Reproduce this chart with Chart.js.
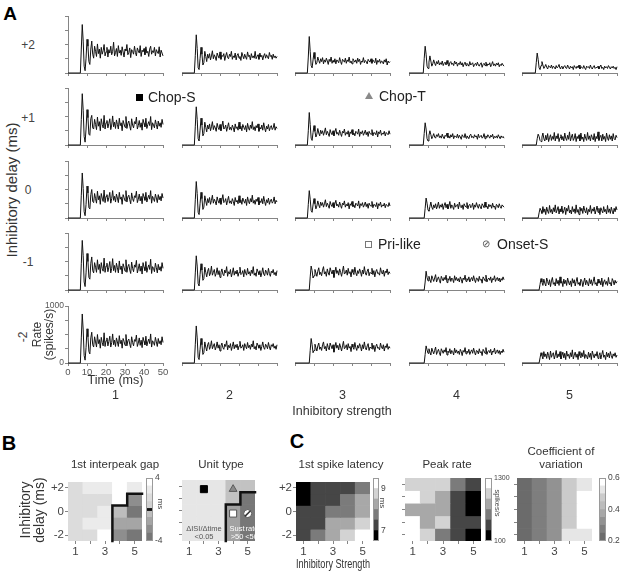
<!DOCTYPE html>
<html>
<head>
<meta charset="utf-8">
<script src="https://cdn.jsdelivr.net/npm/chart.js@4.4.0/dist/chart.umd.min.js"></script>
<style>
  body { margin: 0; background: #fff; }
  #fig { position: relative; width: 623px; height: 571px; overflow: hidden;
         font-family: "Liberation Sans", Arial, sans-serif; color: #333; }
  #fig canvas { position: absolute; }
  .lbl { position: absolute; white-space: pre; line-height: 1; text-align: center;
         transform: translate(-50%, -50%); }
  .mk { position: absolute; box-sizing: border-box; }
</style>
</head>
<body>
<div id="fig"></div>
<script>
// ---------- panel A : PSTHs, spikes/s in 0.5 ms bins starting at response onset ----------
const BIN_MS = 0.5;
const TIME_TICKS = [0, 10, 20, 30, 40, 50];
const RATE_TICKS = [0, 250, 500, 750, 1000];
const DELAYS = [2, 1, 0, -1, -2];
const STRENGTHS = [1, 2, 3, 4, 5];

// onset (ms) per inhibitory strength, one array per delay row
const ONSET_D2 = [6.5, 6.5, 6.5, 7.5, 7];
const ONSET_D1 = [6.5, 6.5, 6.5, 7.5, 7.5];
const ONSET_D0 = [6.5, 6.5, 6.5, 8, 8.5];
const ONSET_DM1 = [6.5, 6.5, 7.5, 8, 9];
const ONSET_DM2 = [6.5, 6.5, 7.5, 8, 9];

const RATE_D2_S1 = [0,420,850,560,120,40,260,590,470,200,150,420,560,330,260,470,380,290,510,340,
  420,260,450,330,390,500,300,370,450,280,410,350,470,320,380,540,300,360,430,290,
  480,350,400,310,460,370,280,420,390,500,320,360,440,270,410,380,330,470,360,300,
  440,390,350,480,290,400,370,430,320,460,350,380,290,420,470,330,390,360,450,300,
  410,370,340,460,280,400,350,300];
const RATE_D2_S2 = [0,310,670,430,90,60,250,450,330,140,180,380,290,200,330,260,340,230,300,390,
  250,320,280,220,350,300,260,370,240,310,290,340,220,300,360,270,250,330,290,380,
  240,300,270,350,230,310,340,260,290,220,360,300,250,330,280,240,370,290,310,230,
  340,270,300,260,380,250,290,320,240,350,280,310,230,300,340,260,320,280,250,360,
  290,310,240,330,270,300,260,290];
const RATE_D2_S3 = [0,280,640,380,130,90,230,360,250,150,180,280,220,170,250,200,270,160,230,190,
  260,210,150,240,200,280,170,220,190,250,160,230,210,180,270,200,150,240,220,190,
  260,170,230,200,280,180,210,160,250,220,190,230,170,260,200,240,150,210,190,270,
  180,220,200,160,240,210,190,250,170,230,200,180,260,150,220,190,240,170,210,200,
  160,230,190,250,140,210,180,200];
const RATE_D2_S4 = [0,250,470,330,120,80,190,300,210,120,160,230,170,130,200,160,220,140,180,150,
  210,130,170,190,140,220,160,120,180,200,150,170,130,210,160,190,120,170,150,200,
  140,180,110,160,190,130,170,150,120,200,140,160,180,110,150,170,130,190,140,120,
  160,180,100,150,170,130,190,120,160,140,180,110,150,200,130,160,120,170,140,180,
  110,150,130,170,140,120];
const RATE_D2_S5 = [0,180,350,240,90,60,130,200,140,80,110,150,100,70,130,110,90,140,80,120,
  100,70,130,90,110,150,80,100,120,70,110,130,90,80,140,100,70,120,90,110,
  60,130,100,80,120,90,140,70,110,100,80,130,90,60,120,100,110,80,140,90,
  70,110,130,80,100,90,120,70,110,140,80,100,60,120,90,110,80,130,100,70,
  110,90,120,80,100,60,110];

const RATE_D1_S1 = [0,450,900,610,150,50,280,620,480,190,170,460,520,300,280,450,360,270,490,330,
  410,250,460,360,300,520,280,390,430,300,380,460,270,350,510,320,400,290,440,360,
  280,470,340,390,250,430,370,310,500,290,380,420,330,260,460,350,300,410,370,490,
  280,340,430,310,390,260,450,380,320,470,290,360,410,340,500,270,390,350,300,440,
  360,280,420,330,390,310,450,360];
const RATE_D1_S2 = [0,330,670,450,110,70,260,470,350,160,200,400,310,230,350,280,370,250,320,410,
  270,340,300,240,380,310,270,360,250,330,420,280,300,350,240,320,390,270,310,260,
  350,300,230,370,290,320,260,400,280,330,250,360,310,270,340,230,380,300,260,350,
  290,410,270,320,250,340,300,370,240,310,280,350,260,390,300,230,330,280,360,250,
  310,340,270,300,380,260,320,290];
const RATE_D1_S3 = [0,250,570,360,120,80,220,340,240,140,190,290,210,160,260,200,250,170,230,300,
  180,240,200,150,270,210,180,250,160,230,290,190,220,170,260,200,150,240,210,280,
  170,220,190,250,140,230,200,270,180,210,160,240,220,190,280,150,230,200,250,170,
  210,260,180,230,150,240,200,190,270,160,220,210,180,250,140,230,200,260,170,210,
  190,240,160,220,200,180,250,190];
const RATE_D1_S4 = [0,200,390,280,110,70,170,250,180,110,150,200,140,120,180,150,200,130,160,120,
  190,140,110,170,150,210,130,160,120,180,140,200,110,160,150,130,190,120,170,140,
  100,180,150,130,200,120,160,140,110,170,190,130,150,120,180,140,160,100,190,130,
  150,170,120,140,200,110,160,130,180,150,120,170,140,190,110,150,130,160,120,180,
  140,110,160,130,150,120];
const RATE_D1_S5 = [0,110,190,150,80,60,140,210,110,70,170,90,200,60,130,180,80,150,100,220,
  70,160,110,200,60,130,180,90,150,70,210,120,80,170,100,230,70,140,190,80,
  120,200,60,150,110,180,70,210,100,140,60,190,120,80,220,100,160,70,180,130,
  90,200,60,150,110,230,80,140,170,70,190,100,150,60,210,120,80,180,100,160,
  70,200,110,90,170,130];

const RATE_D0_S1 = [0,400,790,520,110,40,240,560,440,180,160,410,500,290,270,430,340,260,470,320,
  390,240,430,350,290,490,270,380,410,290,360,450,260,340,480,310,380,280,420,350,
  270,450,330,370,240,410,360,300,480,280,370,400,320,250,440,340,290,390,360,470,
  270,330,420,300,380,250,430,370,310,450,280,350,400,330,480,260,380,340,290,420,
  350,270,410,320,380,300,430,350];
const RATE_D0_S2 = [0,320,640,430,100,60,250,450,340,150,190,390,300,220,340,270,360,240,310,400,
  260,330,290,230,370,300,260,350,240,320,410,270,290,340,230,310,380,260,300,250,
  340,290,220,360,280,310,250,390,270,320,240,350,300,260,330,220,370,290,250,340,
  280,400,260,310,240,330,290,360,230,300,270,340,250,380,290,220,320,270,350,240,
  300,330,260,290,370,250,310,280];
const RATE_D0_S3 = [0,240,480,330,130,100,230,340,250,160,210,300,230,180,280,220,270,190,250,320,
  200,260,220,170,290,230,200,270,180,250,310,210,240,190,280,220,170,260,230,300,
  190,240,210,270,160,250,220,290,200,230,180,260,240,210,300,170,250,220,270,190,
  230,280,200,250,170,260,220,210,290,180,240,230,200,270,160,250,220,280,190,230,
  210,260,180,240,220,200,270,210];
const RATE_D0_S4 = [0,170,350,260,140,120,200,280,190,150,230,180,250,160,210,280,170,230,190,250,
  150,220,270,180,240,160,210,290,170,230,200,150,260,190,220,240,160,280,200,180,
  230,150,250,210,190,270,160,220,240,180,200,260,150,230,190,270,210,170,240,200,
  160,250,220,180,280,190,210,160,240,200,230,170,260,190,210,150,240,220,180,250,
  200,170,230,210,190];
const RATE_D0_S5 = [0,90,170,130,80,200,100,160,60,190,120,80,220,100,150,70,180,110,230,90,
  140,200,70,160,110,210,80,130,190,60,170,120,220,90,140,70,200,110,160,80,
  230,100,150,60,190,120,170,80,210,130,90,180,60,150,110,220,80,160,120,190,
  70,140,210,100,170,60,180,130,90,200,110,150,70,220,100,160,80,190,120,70,
  170,110,200,140];

const RATE_DM1_S1 = [0,460,870,600,140,60,300,640,500,220,190,470,580,340,300,480,400,310,530,360,
  450,290,480,380,330,560,310,420,470,320,400,500,300,380,550,340,430,310,470,390,
  300,510,360,420,280,460,400,330,530,310,410,450,350,290,490,380,320,440,400,520,
  300,370,460,330,420,280,480,400,340,500,310,390,440,360,540,290,410,380,320,470,
  390,300,450,350,410,330,480,380];
const RATE_DM1_S2 = [0,300,600,420,110,70,270,460,350,170,200,400,310,230,330,380,250,300,420,260,
  310,360,240,290,390,270,340,220,310,370,280,250,350,300,410,240,320,280,360,230,
  300,390,260,330,280,350,240,310,400,270,290,340,230,360,300,260,380,280,320,250,
  350,290,410,260,300,240,370,320,270,340,230,300,390,280,250,350,310,260,380,290,
  240,330,300,360,270,310,250,340];
const RATE_DM1_S3 = [0,230,420,340,210,250,360,300,240,330,390,270,310,250,350,410,280,320,240,370,
  300,260,390,330,280,350,220,310,400,290,340,260,370,310,240,330,420,280,300,350,
  260,380,290,320,230,360,310,270,400,300,250,340,290,370,320,240,350,280,410,300,
  260,330,370,250,310,290,380,270,340,230,320,360,290,300,260,390,310,280,350,240,
  330,300,370,270,320,290];
const RATE_DM1_S4 = [0,140,330,220,160,240,180,130,250,200,150,210,270,140,190,230,170,120,240,200,
  160,220,180,260,130,200,170,240,150,210,190,130,250,170,220,160,200,140,230,190,
  120,210,180,260,150,200,170,230,140,190,220,160,250,180,130,210,200,150,240,170,
  190,120,230,200,160,260,140,190,210,170,230,130,200,180,250,150,190,220,160,210,
  140,200,170,230,180];
const RATE_DM1_S5 = [0,100,200,140,80,190,120,70,210,150,90,180,60,160,220,100,130,70,200,110,
  170,80,230,120,150,60,190,110,170,80,210,140,90,160,60,200,120,180,70,150,
  220,100,130,80,190,160,60,140,210,90,170,120,70,200,110,180,80,150,230,100,
  130,70,190,120,160,90,210,60,140,180,100,150,80,220,110,130,70,200,160,90,
  170,120,150];

const RATE_DM2_S1 = [0,440,860,580,130,50,270,600,460,200,160,440,540,320,280,460,370,280,500,340,
  410,260,450,360,300,530,290,390,440,300,380,470,280,360,510,320,400,290,440,370,
  290,480,340,400,260,430,380,310,500,300,390,420,330,270,460,360,300,410,380,490,
  290,350,440,310,400,270,450,380,320,470,300,370,420,340,510,280,390,360,310,450,
  370,290,430,340,390,320,460,360];
const RATE_DM2_S2 = [0,330,650,440,100,60,240,430,320,150,180,370,280,210,320,360,240,290,390,250,
  300,340,230,280,370,260,320,210,300,350,270,240,330,290,390,230,310,270,340,220,
  290,370,250,320,270,330,230,300,380,260,280,320,220,340,290,250,360,270,310,240,
  330,280,390,250,290,230,350,310,260,320,220,290,370,270,240,330,300,250,360,280,
  230,320,290,340,260,300,240,320];
const RATE_DM2_S3 = [0,220,430,320,180,220,330,270,210,300,350,240,280,220,320,370,250,290,210,340,
  270,230,350,300,250,320,190,280,360,260,310,230,340,280,210,300,380,250,270,320,
  230,340,260,290,200,330,280,240,360,270,220,310,260,340,290,210,320,250,370,270,
  230,300,340,220,280,260,350,240,310,200,290,330,260,270,230,350,280,250,320,210,
  300,270,340,240,290,260];
const RATE_DM2_S4 = [0,150,300,230,170,250,190,140,260,210,160,220,280,150,200,240,180,130,250,210,
  170,230,190,270,140,210,180,250,160,220,200,140,260,180,230,170,210,150,240,200,
  130,220,190,270,160,210,180,240,150,200,230,170,260,190,140,220,210,160,250,180,
  200,130,240,210,170,270,150,200,220,180,240,140,210,190,260,160,200,230,170,220,
  150,210,180,240,190];
const RATE_DM2_S5 = [0,90,180,130,70,200,110,160,80,190,130,60,210,100,150,180,70,140,220,90,
  160,110,200,70,130,190,90,170,60,210,120,150,80,180,110,230,70,140,190,100,
  160,60,200,130,90,180,110,220,80,150,120,70,190,100,170,60,210,140,90,160,
  120,200,80,130,180,70,150,220,100,140,60,190,110,170,90,200,130,80,160,120,
  180,100,140];

// ---------- panel B ----------
// rows follow DELAYS (+2 .. -2), columns follow STRENGTHS (1 .. 5)
const GAP_MS = [
  [1.5, 2.5, 2.5, 3.5, 2.5],
  [1.5, 1.5, 1.5, 3.5, -2.5],
  [1.5, 1.5, 2.5, -0.5, -3.5],
  [1.5, 2.5, 2.5, -1.5, -1.5],
  [1.5, 1.5, 3.5, -2.5, -3.5]
];
const GAP_LEVELS = [-4, -3, -2, -1, 0, 1, 2, 3, 4];
const GAP_COLORS = ['#777777', '#8e8e8e', '#a5a5a5', '#bdbdbd', '#d0d0d0', '#dcdcdc', '#ebebeb', '#ffffff'];
const GAP_TICKS = [-4, 4];
// delay above which the response stops being a sustained chopper, per strength
const SUSTAINED_EDGE = [null, null, null, 0.5, 1.5];

const UNIT_TYPE = [
  ['S', 'S', 'S', 'T', 'T'],
  ['S', 'S', 'S', 'T', 'O'],
  ['S', 'S', 'S', 'P', 'O'],
  ['S', 'S', 'S', 'P', 'O'],
  ['S', 'S', 'S', 'P', 'O']
];
const UNIT_COLORS = { S: '#e6e6e6', T: '#c2c2c2', P: '#a2a2a2', O: '#777777' };
const UNIT_MARK_TYPE = ['S', 'T', 'P', 'O'];
const UNIT_MARK_STRENGTH = [2, 4, 4, 5];
const UNIT_MARK_DELAY = [1.75, 1.75, -0.25, -0.25];

// ---------- panel C ----------
const LATENCY_MS = [
  [6.75, 7.25, 7.25, 7.25, 7.75],
  [6.75, 7.25, 7.25, 7.75, 8.25],
  [7.25, 7.25, 7.75, 7.75, 8.25],
  [7.25, 7.25, 8.25, 8.25, 8.75],
  [7.25, 7.75, 8.25, 8.75, 9.25]
];
const LATENCY_LEVELS = [6.5, 7, 7.5, 8, 8.5, 9, 9.5];
const LATENCY_TICKS = [7, 9];

const PEAK_RATE = [
  [1000, 1000, 1000, 600, 400],
  [1200, 1000, 800, 400, 200],
  [800, 800, 800, 400, 200],
  [1200, 800, 1000, 400, 400],
  [1200, 1000, 600, 400, 200]
];
const PEAK_LEVELS = [100, 300, 500, 700, 900, 1100, 1300];
const PEAK_TICKS = [100, 1300];
const SIX_GRAYS = ['#000000', '#464646', '#7b7b7b', '#a8a8a8', '#d3d3d3', '#ffffff'];

const CV = [
  [0.22, 0.27, 0.32, 0.47, 0.52],
  [0.22, 0.27, 0.32, 0.47, 0.57],
  [0.22, 0.27, 0.32, 0.47, 0.57],
  [0.22, 0.27, 0.32, 0.47, 0.57],
  [0.22, 0.27, 0.32, 0.52, 0.52]
];
const CV_LEVELS = [0.2, 0.25, 0.3, 0.35, 0.4, 0.45, 0.5, 0.55, 0.6];
const CV_COLORS = ['#6b6b6b', '#7e7e7e', '#929292', '#a8a8a8', '#bcbcbc', '#cbcbcb', '#e6e6e6', '#ffffff'];
const CV_TICKS = [0.2, 0.4, 0.6];

const ONSETS = [ONSET_D2, ONSET_D1, ONSET_D0, ONSET_DM1, ONSET_DM2];
const RATES = [
  [RATE_D2_S1, RATE_D2_S2, RATE_D2_S3, RATE_D2_S4, RATE_D2_S5],
  [RATE_D1_S1, RATE_D1_S2, RATE_D1_S3, RATE_D1_S4, RATE_D1_S5],
  [RATE_D0_S1, RATE_D0_S2, RATE_D0_S3, RATE_D0_S4, RATE_D0_S5],
  [RATE_DM1_S1, RATE_DM1_S2, RATE_DM1_S3, RATE_DM1_S4, RATE_DM1_S5],
  [RATE_DM2_S1, RATE_DM2_S2, RATE_DM2_S3, RATE_DM2_S4, RATE_DM2_S5]
];

// ---------- layout ----------
const A_LEFT = [68, 182, 295, 409, 522];
const A_TOP = [16, 88, 161, 233, 306];
const A_W = 95, A_H = 57;
const AXIS_GRAY = '#858585';
const FONT = '"Liberation Sans", Arial, sans-serif';

Chart.defaults.font.family = FONT;
Chart.defaults.color = '#444';
Chart.defaults.animation = false;
Chart.defaults.events = [];
Chart.defaults.plugins.legend.display = false;
Chart.defaults.plugins.tooltip.enabled = false;

const fig = document.getElementById('fig');

function makeCanvas(left, top, width, height) {
  const c = document.createElement('canvas');
  c.width = width; c.height = height;
  c.style.left = left + 'px'; c.style.top = top + 'px';
  c.style.width = width + 'px'; c.style.height = height + 'px';
  fig.appendChild(c);
  return c;
}

function addText(text, x, y, size, opt = {}) {
  const d = document.createElement('div');
  d.className = 'lbl';
  d.textContent = text;
  d.style.left = x + 'px'; d.style.top = y + 'px';
  d.style.fontSize = size + 'px';
  if (opt.bold) d.style.fontWeight = 'bold';
  if (opt.color) d.style.color = opt.color;
  if (opt.lineHeight) d.style.lineHeight = opt.lineHeight + 'px';
  let tf = opt.left ? 'translate(0,-50%)' : 'translate(-50%,-50%)';
  if (opt.rotate) tf += ' rotate(' + opt.rotate + 'deg)';
  d.style.transform = tf;
  fig.appendChild(d);
  return d;
}

function addBox(x, y, w, h, css) {
  const d = document.createElement('div');
  d.className = 'mk';
  d.style.left = x + 'px'; d.style.top = y + 'px';
  d.style.width = w + 'px'; d.style.height = h + 'px';
  Object.assign(d.style, css);
  fig.appendChild(d);
}

function levelColor(v, levels, colors) {
  for (let i = 0; i < colors.length; i++) if (v < levels[i + 1]) return colors[i];
  return colors[colors.length - 1];
}

const setTicks = values => scale => { scale.ticks = values.slice().sort((a, b) => a - b).map(v => ({ value: v })); };

// ---------- panel A ----------
function psth(row, col) {
  const onset = ONSETS[row][col];
  const tMax = TIME_TICKS[TIME_TICKS.length - 1];
  const pts = [{ x: 0, y: 0 }];
  RATES[row][col].forEach((r, i) => {
    const t = onset + i * BIN_MS;
    if (t <= tMax) pts.push({ x: t, y: r });
  });

  const firstCol = col === 0;
  const corner = firstCol && row === DELAYS.length - 1;
  const yW = corner ? 36 : (firstCol ? 6 : 0);
  const xH = corner ? 28 : 5;
  const padTop = corner ? 8 : 3, padRight = 8, padLeft = firstCol ? 0 : 2;
  const canvas = makeCanvas(A_LEFT[col] - yW - padLeft, A_TOP[row] - padTop,
                            padLeft + yW + A_W + padRight, padTop + A_H + xH);
  const rateMax = RATE_TICKS[RATE_TICKS.length - 1];

  new Chart(canvas, {
    type: 'line',
    data: {
      datasets: [{
        data: pts, borderColor: '#111', borderWidth: 1, pointRadius: 0, tension: 0, clip: 3
      }]
    },
    options: {
      responsive: false, devicePixelRatio: 1,
      layout: { padding: { left: padLeft, top: padTop, right: padRight, bottom: 0 } },
      scales: {
        x: {
          type: 'linear', min: 0, max: tMax,
          afterBuildTicks: setTicks(TIME_TICKS),
          afterFit: s => { s.height = xH; },
          grid: { drawOnChartArea: false, tickLength: 3, color: AXIS_GRAY },
          border: { color: AXIS_GRAY },
          ticks: { display: corner, font: { size: 9.5 }, padding: 1, maxRotation: 0, color: '#555',
                   callback: v => String(v) },
          title: { display: corner, text: 'Time (ms)', color: '#333',
                   font: { size: 12.5, lineHeight: 1 }, padding: { top: 0, bottom: 4 } }
        },
        y: {
          display: firstCol, min: 0, max: rateMax,
          afterBuildTicks: setTicks(RATE_TICKS),
          afterFit: s => { s.width = yW; },
          grid: { drawOnChartArea: false, tickLength: 3, color: AXIS_GRAY },
          border: { color: AXIS_GRAY },
          ticks: { display: corner, font: { size: 8.5 }, padding: 1, color: '#555',
                   callback: v => (v === 0 || v === rateMax) ? String(v) : '' },
          title: { display: corner, text: ['Rate', '(spikes/s)'], color: '#333',
                   font: { size: 12, lineHeight: 1 }, padding: { top: 0, bottom: 0 } }
        }
      }
    }
  });
}

for (let r = 0; r < DELAYS.length; r++)
  for (let c = 0; c < STRENGTHS.length; c++) psth(r, c);

addText('A', 10, 13, 19, { bold: true, color: '#000' });
const ROW_Y = [45, 118, 190, 262, 337];
DELAYS.forEach((d, r) => {
  const txt = d > 0 ? '+' + d : String(d);
  const last = r === DELAYS.length - 1;
  addText(txt, last ? 23 : 28, ROW_Y[r], 12, { color: '#444', rotate: last ? -90 : 0 });
});
addText('Inhibitory delay (ms)', 11, 190, 15, { rotate: -90 });
STRENGTHS.forEach((s, c) => addText(String(s), A_LEFT[c] + A_W / 2, 395, 12.5));
addText('Inhibitory strength', 342, 411, 12.5);

// legend of unit types
addBox(136, 94, 7, 7, { background: '#000' });
addText('Chop-S', 148, 97, 14, { left: true, color: '#222' });
addBox(365, 92, 0, 0, { borderLeft: '4px solid transparent', borderRight: '4px solid transparent',
                        borderBottom: '7px solid #8a8a8a' });
addText('Chop-T', 379, 96, 14, { left: true, color: '#222' });
addBox(365, 241, 7, 7, { background: '#fff', border: '1px solid #777' });
addText('Pri-like', 378, 244, 14, { left: true, color: '#222' });
addText('\u2298', 485.5, 244, 10, { color: '#555' });
addText('Onset-S', 497, 244, 14, { left: true, color: '#222' });

// ---------- heatmaps ----------
const outline = {
  id: 'outline',
  afterDatasetsDraw(chart) {
    const a = chart.chartArea, ctx = chart.ctx;
    ctx.save(); ctx.strokeStyle = '#9a9a9a'; ctx.lineWidth = 1;
    ctx.strokeRect(a.left + 0.5, a.top + 0.5, a.right - a.left - 1, a.bottom - a.top - 1);
    ctx.restore();
  }
};

function heatmap(o) {
  const canvas = makeCanvas(o.left - o.yW, o.top - 4, o.yW + o.w + 4, 4 + o.h + o.xH);
  const datasets = DELAYS.map((d, r) => ({
    type: 'bar', order: 1,
    data: STRENGTHS.map(s => ({ x: s, y: [d - 0.5, d + 0.5] })),
    backgroundColor: STRENGTHS.map((s, c) => o.color(r, c)),
    borderWidth: 0, grouped: false, barPercentage: 1, categoryPercentage: 1
  })).concat(o.extras || []);
  new Chart(canvas, {
    type: 'bar',
    data: { datasets },
    options: {
      responsive: false, devicePixelRatio: 1,
      layout: { padding: { left: 0, top: 4, right: 4, bottom: 0 } },
      scales: {
        x: {
          type: 'linear', min: 0.5, max: 5.5, offset: false,
          afterBuildTicks: setTicks(STRENGTHS),
          afterFit: s => { s.height = o.xH; },
          grid: { drawOnChartArea: false, offset: false, tickLength: 3, color: AXIS_GRAY },
          border: { display: false },
          ticks: { font: { size: 11.5 }, padding: 1, maxRotation: 0, color: '#444',
                   callback: v => (v % 2 === 1 ? String(v) : '') },
          title: { display: !!o.xTitle, text: o.xTitle || '', color: '#333',
                   font: { size: 12, lineHeight: 1 }, padding: { top: 0, bottom: 0 } }
        },
        y: {
          type: 'linear', min: -2.5, max: 2.5,
          afterBuildTicks: setTicks(DELAYS),
          afterFit: s => { s.width = o.yW; },
          grid: { drawOnChartArea: false, tickLength: 3, color: AXIS_GRAY },
          border: { display: false },
          ticks: { display: !!o.yLabels, font: { size: 11.5 }, padding: 1, color: '#444',
                   callback: v => (v % 2 === 0 ? (v > 0 ? '+' + v : String(v)) : '') }
        }
      }
    }
  });
}

function colorbar(o) {
  const canvas = makeCanvas(o.left, o.top - 8, o.w + o.yW, o.h + 16);
  const datasets = o.colors.map((c, i) => ({
    data: [[o.levels[i], o.levels[i + 1]]], backgroundColor: c, order: 1,
    borderWidth: 0, grouped: false, barPercentage: 1, categoryPercentage: 1
  }));
  if (o.mark !== undefined) {
    datasets.push({ data: [[o.mark - 0.14, o.mark + 0.14]], backgroundColor: '#111', order: 0,
                    borderWidth: 0, grouped: false, barPercentage: 1, categoryPercentage: 1 });
  }
  new Chart(canvas, {
    type: 'bar',
    data: { labels: [''], datasets },
    options: {
      responsive: false, devicePixelRatio: 1,
      layout: { padding: { left: 0, top: 8, right: 0, bottom: 8 } },
      scales: {
        x: { display: false },
        y: {
          position: 'right', min: o.levels[0], max: o.levels[o.levels.length - 1],
          afterBuildTicks: setTicks(o.ticks),
          afterFit: s => { s.width = o.yW; },
          grid: { display: false, drawTicks: false },
          border: { display: false },
          ticks: { font: { size: o.fontSize }, padding: 2, color: '#444', callback: v => String(v) }
        }
      }
    },
    plugins: [outline]
  });
}

// boundary of the sustained-chopper region, built from SUSTAINED_EDGE
function edgeLine() {
  const first = SUSTAINED_EDGE.findIndex(e => e !== null);
  const pts = [{ x: STRENGTHS[first] - 0.5, y: DELAYS[DELAYS.length - 1] - 0.5 }];
  SUSTAINED_EDGE.forEach((e, c) => {
    if (e === null) return;
    pts.push({ x: STRENGTHS[c] - 0.5, y: e }, { x: STRENGTHS[c] + 0.5, y: e });
  });
  return { type: 'line', order: 0, data: pts, borderColor: '#111', borderWidth: 2.5, pointRadius: 0,
           tension: 0, clip: false, borderCapStyle: 'square' };
}

const MARK_STYLE = {
  S: { pointStyle: 'rect', pointRadius: 5, pointBackgroundColor: '#000', pointBorderColor: '#000' },
  T: { pointStyle: 'triangle', pointRadius: 4.5, pointBackgroundColor: '#8a8a8a', pointBorderColor: '#5a5a5a' },
  P: { pointStyle: 'rect', pointRadius: 5, pointBackgroundColor: '#fff', pointBorderColor: '#555' },
  O: { pointStyle: 'circle', pointRadius: 4, pointBackgroundColor: '#fff', pointBorderColor: '#555' }
};
const unitMarks = UNIT_MARK_TYPE.map((t, i) => Object.assign({
  type: 'line', order: -1, showLine: false, pointBorderWidth: 1,
  data: [{ x: UNIT_MARK_STRENGTH[i], y: UNIT_MARK_DELAY[i] }]
}, MARK_STYLE[t]));
const oIdx = UNIT_MARK_TYPE.indexOf('O');
unitMarks.push({
  type: 'line', order: -2, showLine: false, pointStyle: 'line', pointRotation: -45, pointRadius: 4,
  pointBorderColor: '#333', pointBorderWidth: 1.5,
  data: [{ x: UNIT_MARK_STRENGTH[oIdx], y: UNIT_MARK_DELAY[oIdx] }]
});

// B: 1st interpeak gap
heatmap({ left: 68, top: 478, w: 74, h: 63, yW: 24, xH: 18, yLabels: true,
          color: (r, c) => levelColor(GAP_MS[r][c], GAP_LEVELS, GAP_COLORS), extras: [edgeLine()] });
colorbar({ left: 146, top: 478, w: 7, h: 63, yW: 16, levels: GAP_LEVELS, colors: GAP_COLORS,
           ticks: GAP_TICKS, fontSize: 8.5, mark: 0 });
// B: unit type
heatmap({ left: 182, top: 478, w: 75, h: 63, yW: 10, xH: 18, yLabels: false,
          color: (r, c) => UNIT_COLORS[UNIT_TYPE[r][c]], extras: [edgeLine()].concat(unitMarks) });
// C: 1st spike latency
heatmap({ left: 296, top: 478, w: 74, h: 63, yW: 26, xH: 30, yLabels: true, xTitle: 'Inhibitory Strength',
          color: (r, c) => levelColor(LATENCY_MS[r][c], LATENCY_LEVELS, SIX_GRAYS) });
colorbar({ left: 373, top: 478, w: 6, h: 63, yW: 16, levels: LATENCY_LEVELS, colors: SIX_GRAYS,
           ticks: LATENCY_TICKS, fontSize: 8.5 });
// C: peak rate
heatmap({ left: 405, top: 478, w: 76, h: 63, yW: 10, xH: 18, yLabels: false,
          color: (r, c) => levelColor(PEAK_RATE[r][c], PEAK_LEVELS, SIX_GRAYS) });
colorbar({ left: 485, top: 478, w: 7, h: 63, yW: 20, levels: PEAK_LEVELS, colors: SIX_GRAYS,
           ticks: PEAK_TICKS, fontSize: 7 });
// C: coefficient of variation
heatmap({ left: 517, top: 478, w: 75, h: 63, yW: 10, xH: 18, yLabels: false,
          color: (r, c) => levelColor(CV[r][c], CV_LEVELS, CV_COLORS) });
colorbar({ left: 599, top: 478, w: 7, h: 63, yW: 20, levels: CV_LEVELS, colors: CV_COLORS,
           ticks: CV_TICKS, fontSize: 8.5 });

// panel B / C text
addText('B', 9, 443, 20, { bold: true, color: '#000' });
addText('C', 297, 441, 20, { bold: true, color: '#000' });
addText('Inhibitory\ndelay (ms)', 32, 510, 14, { rotate: -90, lineHeight: 14 });
addText('1st interpeak gap', 115, 465, 11.5);
addText('Unit type', 221, 465, 11.5);
addText('1st spike latency', 341, 465, 11.5);
addText('Peak rate', 447, 465, 11.5);
addText('Coefficient of', 561, 452, 11.5);
addText('variation', 561, 465, 11.5);
addText('ms', 160, 504, 8, { rotate: 90, color: '#444' });
addText('ms', 382, 503, 8, { rotate: 90, color: '#444' });
addText('spikes/s', 496.5, 503, 7.5, { rotate: 90, color: '#444' });
addText('\u0394ISI/\u0394time', 204, 529, 7.5, { color: '#555' });
addText('<0.05', 204, 537, 7.5, { color: '#555' });
addText('Sust', 237, 529, 7.5, { color: '#fff' });
addText('rate', 252, 529, 7.5, { color: '#fff' });
addText('>50', 237, 537, 7.5, { color: '#fff' });
addText('<50', 251.5, 537, 7.5, { color: '#fff' });
</script>
</body>
</html>
